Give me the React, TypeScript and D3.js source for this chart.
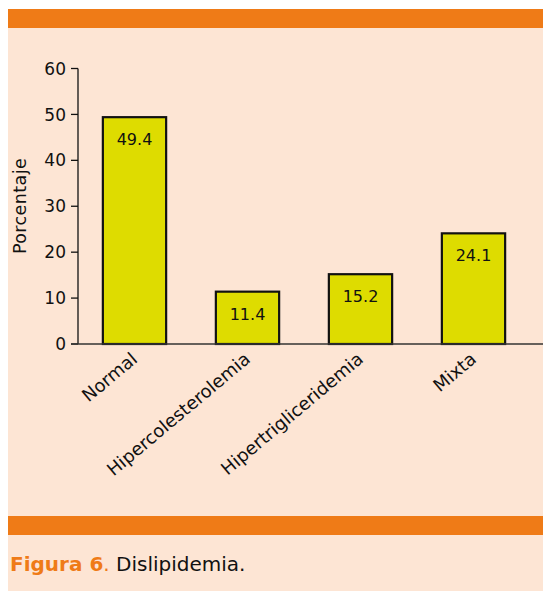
import React from "react";
import * as d3 from "d3";

const categories = ["Normal", "Hipercolesterolemia", "Hipertrigliceridemia", "Mixta"];
const values = [49.4, 11.4, 15.2, 24.1];
const yTicks = [0, 10, 20, 30, 40, 50, 60];

const W = 543;
const H = 591;
const FONT = "'DejaVu Sans', Verdana, sans-serif";
const ORANGE = "#EF7B17";
const PEACH = "#FDE5D4";
const BAR = "#DEDC00";

export default function App() {
  const plotLeft = 78;
  const y = d3.scaleLinear().domain([0, 60]).range([344, 68.5]);
  const x = d3
    .scaleBand<string>()
    .domain(categories)
    .range([plotLeft, plotLeft + 113 * categories.length])
    .paddingInner(0.44)
    .paddingOuter(0.22);

  return (
    <svg
      width={W}
      height={H}
      style={{ position: "absolute", left: 0, top: 0, display: "block" }}
    >
      <rect x={8} y={9} width={W - 8} height={H - 9} fill={PEACH} />
      <rect x={8} y={9} width={W - 8} height={19} fill={ORANGE} />
      <rect x={8} y={516} width={W - 8} height={19} fill={ORANGE} />

      {/* y axis */}
      <line x1={plotLeft} x2={plotLeft} y1={y(60)} y2={y(0)} stroke="#111" strokeWidth={1.3} />
      {yTicks.map((t) => (
        <g key={t}>
          <line x1={plotLeft - 7} x2={plotLeft} y1={y(t)} y2={y(t)} stroke="#111" strokeWidth={1.3} />
          <text
            x={plotLeft - 12}
            y={y(t)}
            dy="0.36em"
            textAnchor="end"
            fontFamily={FONT}
            fontSize={17}
            fill="#111"
          >
            {t}
          </text>
        </g>
      ))}
      <text
        transform={`translate(26,206) rotate(-90)`}
        textAnchor="middle"
        fontFamily={FONT}
        fontSize={17.5}
        letterSpacing={0.4}
        fill="#111"
      >
        Porcentaje
      </text>

      {/* bars */}
      {categories.map((c, i) => {
        const bx = x(c)!;
        const bw = x.bandwidth();
        const top = y(values[i]);
        return (
          <g key={c}>
            <rect
              x={bx}
              y={top}
              width={bw}
              height={y(0) - top}
              fill={BAR}
              stroke="#111"
              strokeWidth={2.2}
            />
            <text
              x={bx + bw / 2}
              y={top + 28}
              textAnchor="middle"
              fontFamily={FONT}
              fontSize={16}
              fill="#111"
            >
              {values[i].toFixed(1)}
            </text>
          </g>
        );
      })}

      {/* x axis baseline */}
      <line x1={plotLeft - 7} x2={W} y1={y(0)} y2={y(0)} stroke="#333" strokeWidth={1.3} />

      {categories.map((c) => {
        const cx = x(c)! + x.bandwidth() / 2;
        return (
          <text
            key={c}
            transform={`translate(${cx + 4},${y(0) + 17}) rotate(-40)`}
            textAnchor="end"
            fontFamily={FONT}
            fontSize={18}
            fill="#111"
          >
            {c}
          </text>
        );
      })}

      <text x={10} y={571} fontFamily={FONT} fontSize={20}>
        <tspan fill={ORANGE} fontWeight="bold">Figura 6</tspan>
        <tspan fill={ORANGE}>.</tspan>
        <tspan fill="#111"> Dislipidemia.</tspan>
      </text>
    </svg>
  );
}
